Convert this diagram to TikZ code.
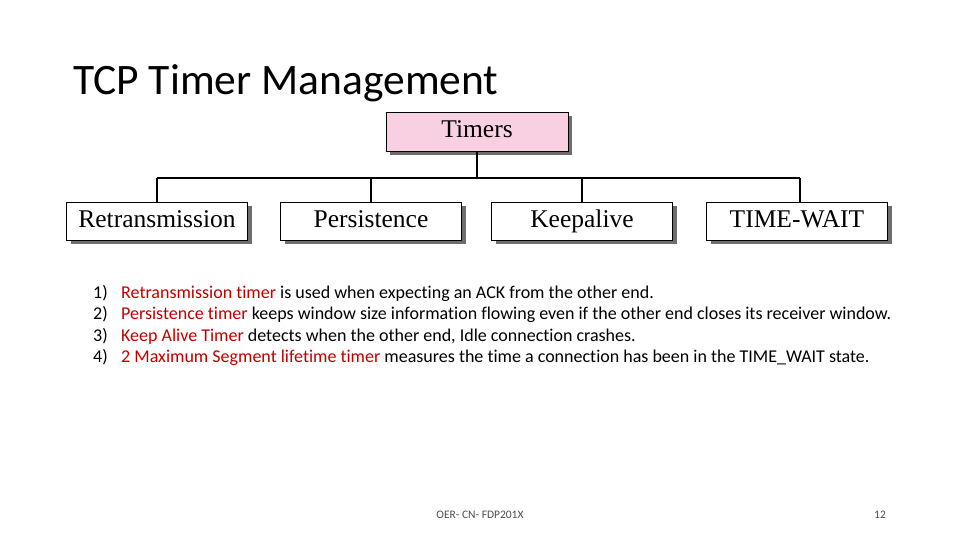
\documentclass[tikz,border=0pt]{standalone}
\usepackage{fontspec}
\usetikzlibrary{shadows}
\setmainfont[Ligatures={NoCommon}]{Carlito}
\newfontfamily\boxfont{Liberation Serif}
\definecolor{pinkfill}{RGB}{248,208,226}
\definecolor{redtxt}{RGB}{192,0,0}
\definecolor{shadowgray}{RGB}{110,110,110}
\begin{document}
\begin{tikzpicture}[x=1pt,y=-1pt,
  tbox/.style={draw=black,line width=1pt,fill=white,minimum width=181pt,minimum height=38pt,inner sep=0pt,text height=17pt,text depth=5pt,font=\boxfont\fontsize{25.5}{25.5}\selectfont,
    drop shadow={shadow xshift=4pt,shadow yshift=-4pt,fill=shadowgray,opacity=1}},
  conn/.style={line width=1.6pt},
  item/.style={anchor=base west,font=\fontsize{18}{21}\selectfont,inner sep=0pt}]
\useasboundingbox (0,0) rectangle (960,540);
\node[anchor=base west,font=\fontsize{43.5}{48}\selectfont,inner sep=0pt] (title) at (73,95) {TCP Timer Management};
\node[tbox,fill=pinkfill,minimum width=182pt,minimum height=39pt] (timers) at (477,132) {Timers};
\node[tbox] (r) at (157,221) {Retransmission};
\node[tbox] (p) at (371,221) {Persistence};
\node[tbox] (k) at (582,221) {Keepalive};
\node[tbox] (t) at (797,221) {TIME-WAIT};
\coordinate (hl) at (157,178);
\coordinate (hr) at (800,178);
\draw[conn] (timers.south) -- (477,178);
\draw[conn] (hl) -- (hr);
\draw[conn] (hl) -- (r.north);
\draw[conn] (p.north) -- (p.north |- hl);
\draw[conn] (k.north) -- (k.north |- hl);
\draw[conn] (hr) -- (hr |- t.north);
\foreach \n/\y in {1/298,2/319,3/341,4/362}{\node[item] (n\n) at (93,\y) {\n)};}
\node[item] (l1) at (121,298) {\textcolor{redtxt}{Retransmission timer} is used when expecting an ACK from the other end.};
\node[item] (l2) at (121,319) {\textcolor{redtxt}{Persistence timer} keeps window size information flowing even if the other end closes its receiver window.};
\node[item] (l3) at (121,341) {\textcolor{redtxt}{Keep Alive Timer} detects when the other end, Idle connection crashes.};
\node[item] (l4) at (121,362) {\textcolor{redtxt}{2 Maximum Segment lifetime timer} measures the time a connection has been in the TIME\_WAIT state.};
\node[font=\fontsize{11.5}{13}\selectfont,text=black!70,inner sep=0pt] (foot) at (480,515) {OER- CN- FDP201X};
\node[font=\fontsize{11.5}{13}\selectfont,text=black!70,inner sep=0pt] (pg) at (880,515) {12};
\end{tikzpicture}
\end{document}
